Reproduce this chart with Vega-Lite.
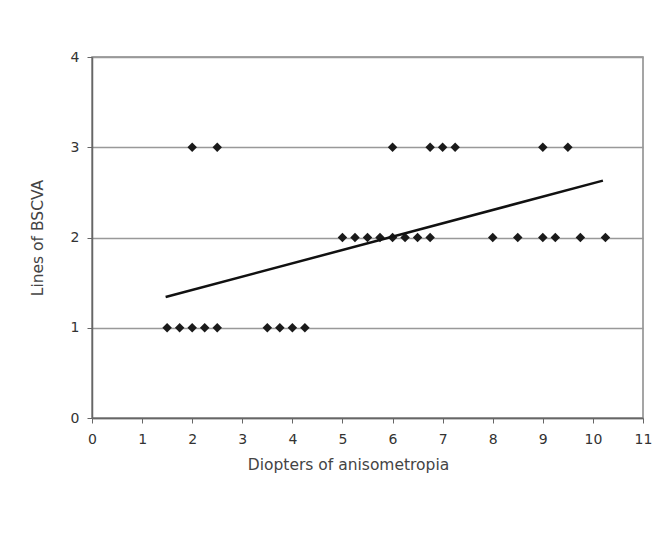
{
  "$schema": "https://vega.github.io/schema/vega-lite/v6.json",
  "width": 551,
  "height": 361,
  "autosize": {"type": "none"},
  "padding": {"left": 92, "top": 57, "right": 14, "bottom": 122},
  "background": "white",
  "config": {
    "view": {"stroke": "#888888", "strokeWidth": 1.5},
    "axis": {
      "labelFont": "DejaVu Sans",
      "titleFont": "DejaVu Sans",
      "labelFontSize": 14,
      "titleFontSize": 15.5,
      "titleFontWeight": "normal",
      "labelColor": "#333333",
      "titleColor": "#444444",
      "domainColor": "#666666",
      "domainWidth": 1.5,
      "tickColor": "#666666",
      "tickSize": 5,
      "labelOverlap": false,
      "labelFlush": false
    }
  },
  "datasets": {
    "points": [
      {"diopters": 1.5, "lines": 1}, {"diopters": 1.75, "lines": 1}, {"diopters": 2.0, "lines": 1},
      {"diopters": 2.25, "lines": 1}, {"diopters": 2.5, "lines": 1}, {"diopters": 3.5, "lines": 1},
      {"diopters": 3.75, "lines": 1}, {"diopters": 4.0, "lines": 1}, {"diopters": 4.25, "lines": 1},
      {"diopters": 5.0, "lines": 2}, {"diopters": 5.25, "lines": 2}, {"diopters": 5.5, "lines": 2},
      {"diopters": 5.75, "lines": 2}, {"diopters": 6.0, "lines": 2}, {"diopters": 6.25, "lines": 2},
      {"diopters": 6.5, "lines": 2}, {"diopters": 6.75, "lines": 2}, {"diopters": 8.0, "lines": 2},
      {"diopters": 8.5, "lines": 2}, {"diopters": 9.0, "lines": 2}, {"diopters": 9.25, "lines": 2},
      {"diopters": 9.75, "lines": 2}, {"diopters": 10.25, "lines": 2},
      {"diopters": 2.0, "lines": 3}, {"diopters": 2.5, "lines": 3}, {"diopters": 6.0, "lines": 3},
      {"diopters": 6.75, "lines": 3}, {"diopters": 7.0, "lines": 3}, {"diopters": 7.25, "lines": 3},
      {"diopters": 9.0, "lines": 3}, {"diopters": 9.5, "lines": 3}
    ],
    "trend": [
      {"diopters": 1.47, "lines": 1.34},
      {"diopters": 10.2, "lines": 2.63}
    ]
  },
  "layer": [
    {
      "data": {"name": "points"},
      "mark": {"type": "point", "shape": "diamond", "filled": true, "size": 90, "color": "#1a1a1a", "opacity": 1},
      "encoding": {
        "x": {
          "field": "diopters", "type": "quantitative",
          "scale": {"domain": [0, 11], "nice": false},
          "axis": {"title": "Diopters of anisometropia", "values": [0,1,2,3,4,5,6,7,8,9,10,11], "format": "d", "grid": false, "labelPadding": 9, "titlePadding": 11, "titleX": 256}
        },
        "y": {
          "field": "lines", "type": "quantitative",
          "scale": {"domain": [0, 4], "nice": false},
          "axis": {"title": "Lines of BSCVA", "values": [0,1,2,3,4], "format": "d", "grid": true, "gridColor": "#999999", "gridWidth": 1.5, "labelPadding": 8, "titlePadding": 25}
        }
      }
    },
    {
      "data": {"name": "trend"},
      "mark": {"type": "line", "color": "#111111", "strokeWidth": 2.5},
      "encoding": {
        "x": {"field": "diopters", "type": "quantitative"},
        "y": {"field": "lines", "type": "quantitative"}
      }
    }
  ]
}
